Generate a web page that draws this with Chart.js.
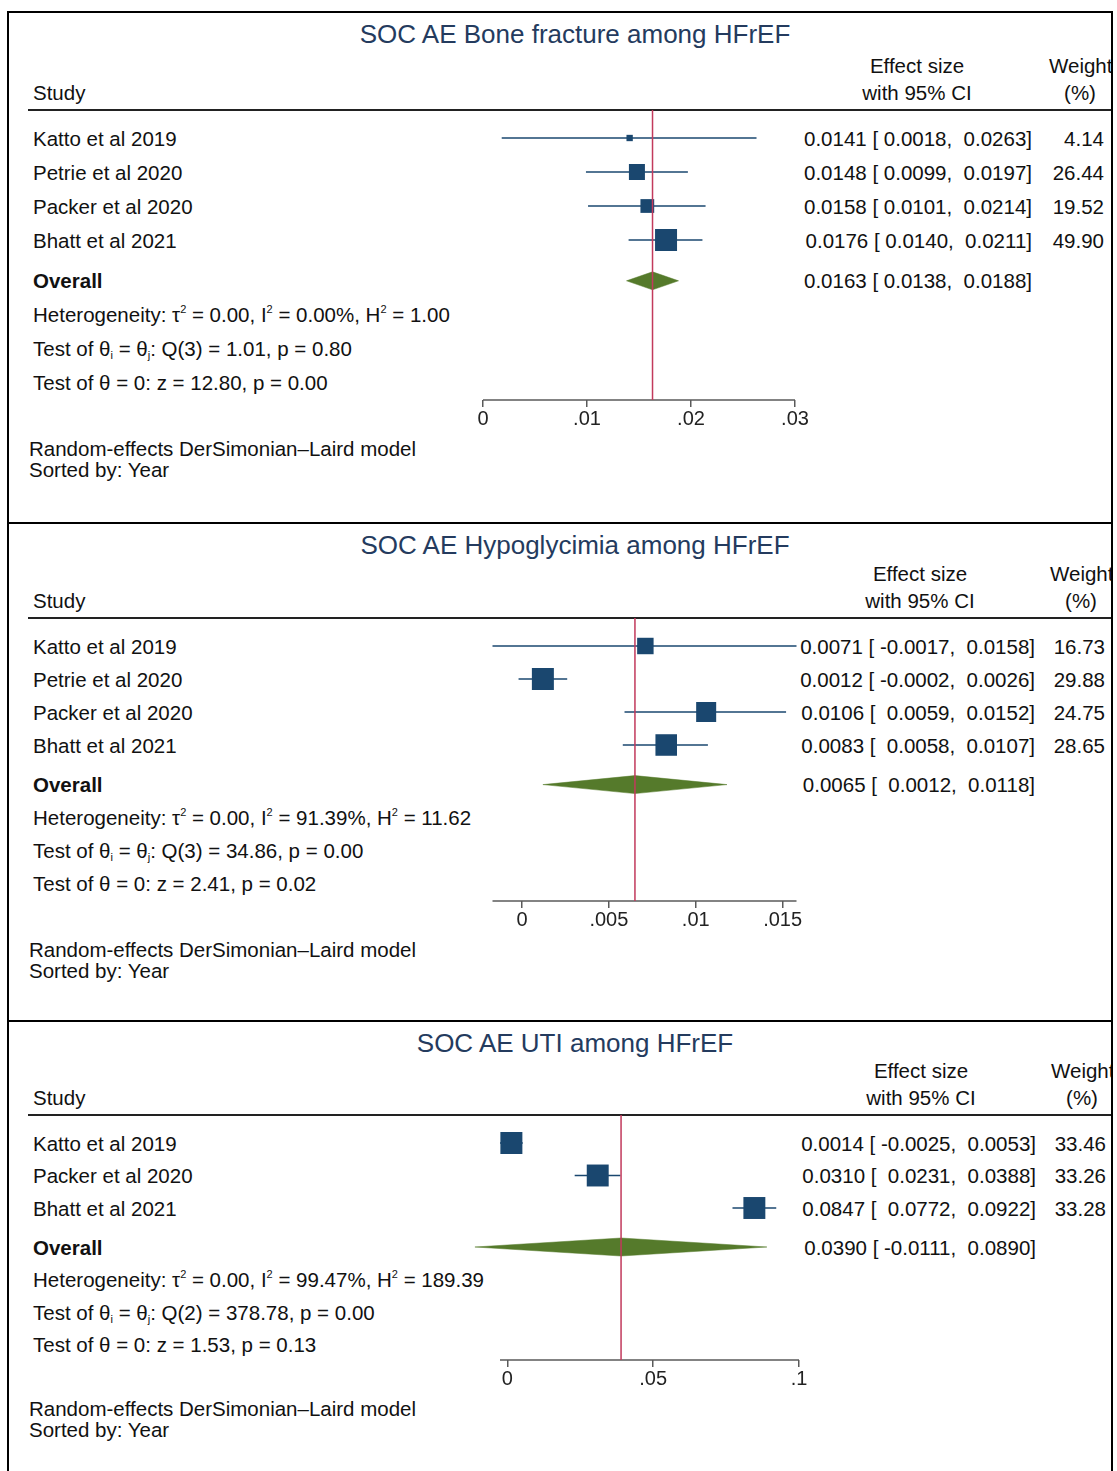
<!DOCTYPE html>
<html>
<head>
  <meta charset="UTF-8">
  <title>SOC AE forest plots among HFrEF</title>
  <script src="https://cdn.jsdelivr.net/npm/chart.js@4.4.1/dist/chart.umd.min.js"></script>
  <style>
    body {
      margin: 0;
      background: #fff;
      font-family: "Liberation Sans", Arial, sans-serif;
      color: #111;
    }
    #page {
      position: relative;
      width: 1117px;
      height: 1471px;
      overflow: hidden;
    }
    .panel {
      position: absolute;
      left: 7px;
      width: 1106px;
      box-sizing: border-box;
      border: 2px solid #000;
      border-bottom: none;
      overflow: hidden;
    }
    .t {
      position: absolute;
      font-size: 20.5px;
      line-height: 24px;
      white-space: pre;
    }
    .title {
      font-size: 26px;
      line-height: 30px;
      color: #243b5e;
    }
    .bold { font-weight: bold; }
    .t sup, .t sub {
      font-size: 11px;
      line-height: 0;
    }
    .t sup { vertical-align: 9px; }
    .t sub { vertical-align: -3px; }
    .rule {
      position: absolute;
      height: 2px;
      background: #222;
    }
    canvas { position: absolute; }
  </style>
</head>
<body>
<div id="page"></div>

<script>
  // --- Bone fracture ---
  const boneStudies = ['Katto et al 2019', 'Petrie et al 2020', 'Packer et al 2020', 'Bhatt et al 2021'];
  const boneEs = [0.0141, 0.0148, 0.0158, 0.0176];
  const boneLo = [0.0018, 0.0099, 0.0101, 0.0140];
  const boneHi = [0.0263, 0.0197, 0.0214, 0.0211];
  const boneWeight = [4.14, 26.44, 19.52, 49.90];
  const boneOverall = [0.0163, 0.0138, 0.0188];
  const boneTicks = [0, 0.01, 0.02, 0.03];
  const boneStats = ['0.00', '0.00%', '1.00', '3', '1.01', '0.80', '12.80', '0.00'];

  // --- Hypoglycimia ---
  const hypoStudies = ['Katto et al 2019', 'Petrie et al 2020', 'Packer et al 2020', 'Bhatt et al 2021'];
  const hypoEs = [0.0071, 0.0012, 0.0106, 0.0083];
  const hypoLo = [-0.0017, -0.0002, 0.0059, 0.0058];
  const hypoHi = [0.0158, 0.0026, 0.0152, 0.0107];
  const hypoWeight = [16.73, 29.88, 24.75, 28.65];
  const hypoOverall = [0.0065, 0.0012, 0.0118];
  const hypoTicks = [0, 0.005, 0.01, 0.015];
  const hypoStats = ['0.00', '91.39%', '11.62', '3', '34.86', '0.00', '2.41', '0.02'];

  // --- UTI ---
  const utiStudies = ['Katto et al 2019', 'Packer et al 2020', 'Bhatt et al 2021'];
  const utiEs = [0.0014, 0.0310, 0.0847];
  const utiLo = [-0.0025, 0.0231, 0.0772];
  const utiHi = [0.0053, 0.0388, 0.0922];
  const utiWeight = [33.46, 33.26, 33.28];
  const utiOverall = [0.0390, -0.0111, 0.0890];
  const utiTicks = [0, 0.05, 0.1];
  const utiStats = ['0.00', '99.47%', '189.39', '2', '378.78', '0.00', '1.53', '0.13'];

  const NAVY = '#1a476f';
  const GREEN = '#557a2b';
  const REF = '#c23a5c';
  const AXIS = '#5a5a5a';
  const FONT = '"Liberation Sans", Arial, sans-serif';

  // page layout of each panel (pixels)
  const panels = [
    { title: 'SOC AE Bone fracture among HFrEF', studies: boneStudies, es: boneEs, lo: boneLo, hi: boneHi,
      w: boneWeight, overall: boneOverall, ticks: boneTicks, stats: boneStats,
      top: 11, height: 511, row0: 138, gap: 34, axisY: 400, axisPx: [483, 795], effRight: 1032, wRight: 1104 },
    { title: 'SOC AE Hypoglycimia among HFrEF', studies: hypoStudies, es: hypoEs, lo: hypoLo, hi: hypoHi,
      w: hypoWeight, overall: hypoOverall, ticks: hypoTicks, stats: hypoStats,
      top: 522, height: 498, row0: 646, gap: 33, axisY: 901, axisPx: [492.5, 796.5], effRight: 1035, wRight: 1105 },
    { title: 'SOC AE UTI among HFrEF', studies: utiStudies, es: utiEs, lo: utiLo, hi: utiHi,
      w: utiWeight, overall: utiOverall, ticks: utiTicks, stats: utiStats,
      top: 1020, height: 451, row0: 1143, gap: 32.5, axisY: 1360, axisPx: [500, 799], effRight: 1036, wRight: 1106 }
  ];

  const page = document.getElementById('page');

  function fmt(v) { return v.toFixed(4); }

  function tickLabel(v) {
    if (v === 0) return '0';
    return String(+v.toFixed(4)).replace(/^0\./, '.').replace(/^-0\./, '-.');
  }

  function drawPanel(p) {
    const box = document.createElement('div');
    box.className = 'panel';
    box.style.top = p.top + 'px';
    box.style.height = p.height + 'px';
    page.appendChild(box);

    const ox = 9, oy = p.top + 2;   // inner origin of the panel
    // anchor: 'left' | 'right' | 'center'; y is the text's vertical centre
    function text(html, x, y, anchor, cls) {
      const el = document.createElement('div');
      el.className = 't' + (cls ? ' ' + cls : '');
      el.innerHTML = html;
      box.appendChild(el);
      const lh = cls && cls.includes('title') ? 30 : 24;
      el.style.top = (y - oy - lh / 2 + 0.5) + 'px';
      if (anchor === 'right') {
        el.style.right = (1106 - 4 - (x - ox)) + 'px';
      } else if (anchor === 'center') {
        el.style.left = (x - ox) + 'px';
        el.style.transform = 'translateX(-50%)';
      } else {
        el.style.left = (x - ox) + 'px';
      }
      return el;
    }

    const n = p.studies.length;
    const rowY = i => p.row0 + i * p.gap;
    const ovRow = n + 0.2;
    const ruleY = p.row0 - 28;

    // header
    text(p.title, 575, p.top + 22, 'center', 'title');
    text('Effect size', p.effRight - 115, ruleY - 45, 'center');
    text('with 95% CI', p.effRight - 115, ruleY - 18, 'center');
    text('Weight', p.wRight - 55, ruleY - 45, 'left');
    text('(%)', p.wRight - 24, ruleY - 18, 'center');
    text('Study', 33, ruleY - 18, 'left');
    const rule = document.createElement('div');
    rule.className = 'rule';
    rule.style.left = (28 - ox) + 'px';
    rule.style.width = '1100px';
    rule.style.top = (ruleY - oy - 1) + 'px';
    box.appendChild(rule);

    // study rows
    const lw = Math.max(...p.lo.map(v => fmt(v).length), fmt(p.overall[1]).length);
    const ci = (e, l, h) => fmt(e) + ' [ ' + fmt(l).padStart(lw) + ',  ' + fmt(h) + ']';
    p.studies.forEach((s, i) => {
      text(s, 33, rowY(i), 'left');
      text(ci(p.es[i], p.lo[i], p.hi[i]), p.effRight, rowY(i), 'right');
      text(p.w[i].toFixed(2), p.wRight, rowY(i), 'right');
    });
    text('Overall', 33, rowY(ovRow), 'left', 'bold');
    text(ci(p.overall[0], p.overall[1], p.overall[2]), p.effRight, rowY(ovRow), 'right');

    const s = p.stats;
    text(`Heterogeneity: τ<sup>2</sup> = ${s[0]}, I<sup>2</sup> = ${s[1]}, H<sup>2</sup> = ${s[2]}`, 33, rowY(ovRow + 1), 'left');
    text(`Test of θ<sub>i</sub> = θ<sub>j</sub>: Q(${s[3]}) = ${s[4]}, p = ${s[5]}`, 33, rowY(ovRow + 2), 'left');
    text(`Test of θ = 0: z = ${s[6]}, p = ${s[7]}`, 33, rowY(ovRow + 3), 'left');

    text('Random-effects DerSimonian–Laird model', 29, p.axisY + 48, 'left');
    text('Sorted by: Year', 29, p.axisY + 69, 'left');

    // plot region
    const axisMin = Math.min(...p.lo, ...p.ticks);
    const axisMax = Math.max(...p.hi, ...p.ticks);
    const pxPerUnit = (p.axisPx[1] - p.axisPx[0]) / (axisMax - axisMin);
    const cLeft = 430, cRight = 830, band = 36;
    const xMin = axisMin - (p.axisPx[0] - cLeft) / pxPerUnit;
    const xMax = axisMax + (cRight - p.axisPx[1]) / pxPerUnit;
    const yMin = (ruleY - p.row0) / p.gap;
    const yMax = (p.axisY - p.row0) / p.gap;

    const canvas = document.createElement('canvas');
    canvas.width = cRight - cLeft;
    canvas.height = p.axisY - ruleY + band;
    canvas.style.left = (cLeft - ox) + 'px';
    canvas.style.top = (ruleY - oy) + 'px';
    box.appendChild(canvas);

    const wMax = Math.max(...p.w);
    const side = w => 22 * Math.sqrt(w / wMax);
    const dh = 9 / p.gap;

    const datasets = [
      { data: [{ x: p.overall[0], y: yMin }, { x: p.overall[0], y: yMax }],
        showLine: true, borderColor: REF, borderWidth: 1.5, pointRadius: 0, order: 0 },
      { data: p.es.map((e, i) => ({ x: e, y: i })),
        pointStyle: 'rect', pointRadius: p.w.map(w => side(w) / Math.SQRT2),
        backgroundColor: NAVY, borderColor: NAVY, borderWidth: 0, order: 1 },
      ...p.studies.map((st, i) => ({
        data: [{ x: p.lo[i], y: i }, { x: p.hi[i], y: i }],
        showLine: true, borderColor: NAVY, borderWidth: 1.5, pointRadius: 0, order: 2 })),
      { data: [
          { x: p.overall[1], y: ovRow }, { x: p.overall[0], y: ovRow - dh },
          { x: p.overall[2], y: ovRow }, { x: p.overall[0], y: ovRow + dh },
          { x: p.overall[1], y: ovRow }],
        showLine: true, fill: 'shape', backgroundColor: GREEN, borderColor: GREEN,
        borderWidth: 0.5, pointRadius: 0, order: 3 },
      { data: [{ x: axisMin, y: yMax }, { x: axisMax, y: yMax }],
        showLine: true, borderColor: AXIS, borderWidth: 1.5, pointRadius: 0, order: 4 }
    ];
    datasets.forEach(d => { d.clip = false; });

    new Chart(canvas, {
      type: 'scatter',
      data: { datasets: datasets },
      options: {
        responsive: false,
        animation: false,
        layout: { padding: 0, autoPadding: false },
        plugins: { legend: { display: false }, tooltip: { enabled: false } },
        scales: {
          x: {
            type: 'linear',
            min: xMin,
            max: xMax,
            afterBuildTicks: sc => { sc.ticks = p.ticks.map(v => ({ value: v })); },
            afterFit: sc => { sc.height = band; },
            border: { display: false },
            grid: { drawOnChartArea: false, drawTicks: true, tickLength: 7, color: AXIS, lineWidth: 1.5 },
            ticks: {
              padding: 0, color: '#222', maxRotation: 0, autoSkip: false,
              font: { family: FONT, size: 20 },
              callback: v => tickLabel(v)
            }
          },
          y: { type: 'linear', display: false, reverse: true, min: yMin, max: yMax }
        }
      }
    });
  }

  panels.forEach(drawPanel);
</script>
</body>
</html>
